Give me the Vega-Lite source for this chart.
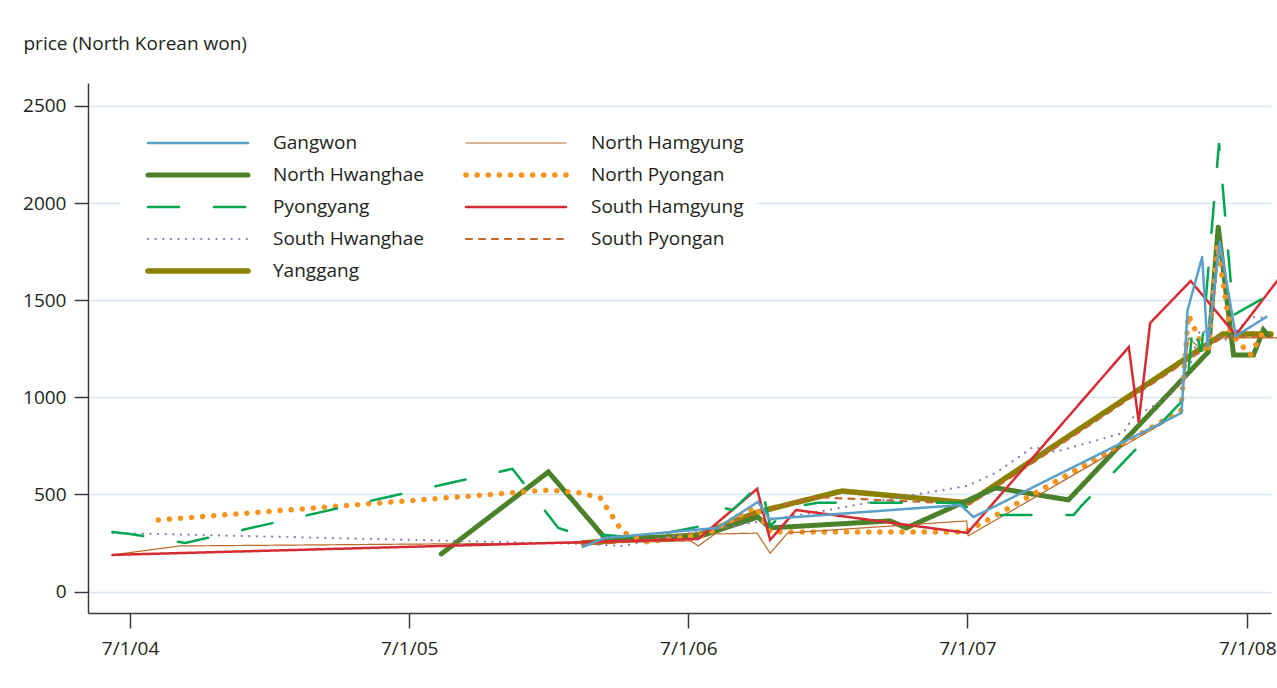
{
"$schema": "https://vega.github.io/schema/vega-lite/v6.json",
"width": 1183, "height": 530,
"autosize": "none",
"padding": {"left": 88, "top": 83, "right": 6, "bottom": 75},
"background": "white",
"config": {
  "view": {"stroke": null},
  "font": "Open Sans",
  "axis": {"labelFont": "Open Sans", "labelFontSize": 19, "labelColor": "#231f20", "domainColor": "#3a3a3a", "domainWidth": 1.5, "tickColor": "#3a3a3a", "tickWidth": 1.5, "gridColor": "#d6e5f1", "gridWidth": 1.5}
},
"data": {"values": [
{"region":"Yanggang","date":"2006-02-13","price":251},
{"region":"Yanggang","date":"2006-07-14","price":292},
{"region":"Yanggang","date":"2006-09-30","price":410},
{"region":"Yanggang","date":"2007-01-18","price":518},
{"region":"Yanggang","date":"2007-07-02","price":457},
{"region":"Yanggang","date":"2008-05-30","price":1326},
{"region":"Yanggang","date":"2008-08-01","price":1326},
{"region":"South Pyongan","date":"2006-02-13","price":240},
{"region":"South Pyongan","date":"2006-07-14","price":282},
{"region":"South Pyongan","date":"2006-09-30","price":410},
{"region":"South Pyongan","date":"2006-12-10","price":487},
{"region":"South Pyongan","date":"2007-07-05","price":451},
{"region":"South Pyongan","date":"2008-05-30","price":1311},
{"region":"South Pyongan","date":"2008-08-04","price":1311},
{"region":"North Hwanghae","date":"2005-08-12","price":194},
{"region":"North Hwanghae","date":"2005-12-30","price":616},
{"region":"North Hwanghae","date":"2006-03-14","price":276},
{"region":"North Hwanghae","date":"2006-07-14","price":282},
{"region":"North Hwanghae","date":"2006-09-30","price":384},
{"region":"North Hwanghae","date":"2006-10-16","price":328},
{"region":"North Hwanghae","date":"2007-03-22","price":364},
{"region":"North Hwanghae","date":"2007-04-12","price":328},
{"region":"North Hwanghae","date":"2007-08-07","price":534},
{"region":"North Hwanghae","date":"2007-11-10","price":472},
{"region":"North Hwanghae","date":"2008-05-11","price":1234},
{"region":"North Hwanghae","date":"2008-05-24","price":1877},
{"region":"North Hwanghae","date":"2008-06-13","price":1218},
{"region":"North Hwanghae","date":"2008-07-09","price":1218},
{"region":"North Hwanghae","date":"2008-07-22","price":1347},
{"region":"North Hwanghae","date":"2008-07-28","price":1321},
{"region":"North Pyongan","date":"2004-08-07","price":369},
{"region":"North Pyongan","date":"2005-12-30","price":523},
{"region":"North Pyongan","date":"2006-02-10","price":508},
{"region":"North Pyongan","date":"2006-03-08","price":482},
{"region":"North Pyongan","date":"2006-04-06","price":307},
{"region":"North Pyongan","date":"2006-05-06","price":256},
{"region":"North Pyongan","date":"2006-07-23","price":292},
{"region":"North Pyongan","date":"2006-09-27","price":436},
{"region":"North Pyongan","date":"2006-10-16","price":307},
{"region":"North Pyongan","date":"2007-06-28","price":307},
{"region":"North Pyongan","date":"2007-07-25","price":364},
{"region":"North Pyongan","date":"2008-04-05","price":930},
{"region":"North Pyongan","date":"2008-04-15","price":1424},
{"region":"North Pyongan","date":"2008-05-04","price":1259},
{"region":"North Pyongan","date":"2008-05-11","price":1229},
{"region":"North Pyongan","date":"2008-05-23","price":1784},
{"region":"North Pyongan","date":"2008-06-09","price":1332},
{"region":"North Pyongan","date":"2008-07-05","price":1218},
{"region":"North Pyongan","date":"2008-07-21","price":1332},
{"region":"North Pyongan","date":"2008-07-28","price":1321},
{"region":"South Hwanghae","date":"2004-06-08","price":302},
{"region":"South Hwanghae","date":"2006-02-10","price":246},
{"region":"South Hwanghae","date":"2006-04-06","price":235},
{"region":"South Hwanghae","date":"2006-06-04","price":282},
{"region":"South Hwanghae","date":"2006-09-29","price":359},
{"region":"South Hwanghae","date":"2006-12-17","price":410},
{"region":"South Hwanghae","date":"2007-03-13","price":472},
{"region":"South Hwanghae","date":"2007-07-01","price":544},
{"region":"South Hwanghae","date":"2007-08-09","price":616},
{"region":"South Hwanghae","date":"2007-09-25","price":745},
{"region":"South Hwanghae","date":"2007-10-24","price":719},
{"region":"South Hwanghae","date":"2008-01-21","price":817},
{"region":"South Hwanghae","date":"2008-02-03","price":899},
{"region":"South Hwanghae","date":"2008-03-19","price":997},
{"region":"South Hwanghae","date":"2008-04-14","price":1115},
{"region":"South Hwanghae","date":"2008-04-30","price":1347},
{"region":"South Hwanghae","date":"2008-06-05","price":1295},
{"region":"South Hwanghae","date":"2008-07-05","price":1414},
{"region":"South Hwanghae","date":"2008-07-27","price":1409},
{"region":"North Hamgyung","date":"2004-06-08","price":189},
{"region":"North Hamgyung","date":"2004-09-04","price":235},
{"region":"North Hamgyung","date":"2005-08-20","price":246},
{"region":"North Hamgyung","date":"2006-02-23","price":250},
{"region":"North Hamgyung","date":"2006-07-04","price":261},
{"region":"North Hamgyung","date":"2006-07-14","price":235},
{"region":"North Hamgyung","date":"2006-08-05","price":297},
{"region":"North Hamgyung","date":"2006-09-29","price":301},
{"region":"North Hamgyung","date":"2006-10-16","price":198},
{"region":"North Hamgyung","date":"2006-11-08","price":302},
{"region":"North Hamgyung","date":"2007-06-30","price":364},
{"region":"North Hamgyung","date":"2007-07-02","price":287},
{"region":"North Hamgyung","date":"2008-04-05","price":920},
{"region":"North Hamgyung","date":"2008-04-15","price":1306},
{"region":"North Hamgyung","date":"2008-04-30","price":1254},
{"region":"North Hamgyung","date":"2008-05-10","price":1270},
{"region":"North Hamgyung","date":"2008-05-30","price":1306},
{"region":"North Hamgyung","date":"2008-08-10","price":1306},
{"region":"South Hamgyung","date":"2004-06-08","price":189},
{"region":"South Hamgyung","date":"2006-07-14","price":271},
{"region":"South Hamgyung","date":"2006-09-29","price":529},
{"region":"South Hamgyung","date":"2006-10-16","price":266},
{"region":"South Hamgyung","date":"2006-11-19","price":420},
{"region":"South Hamgyung","date":"2007-07-01","price":302},
{"region":"South Hamgyung","date":"2008-01-28","price":1259},
{"region":"South Hamgyung","date":"2008-02-10","price":873},
{"region":"South Hamgyung","date":"2008-02-25","price":1383},
{"region":"South Hamgyung","date":"2008-04-18","price":1599},
{"region":"South Hamgyung","date":"2008-06-16","price":1321},
{"region":"South Hamgyung","date":"2008-08-10","price":1604},
{"region":"Pyongyang","date":"2004-06-08","price":307},
{"region":"Pyongyang","date":"2004-07-01","price":297},
{"region":"Pyongyang","date":"2004-09-11","price":251},
{"region":"Pyongyang","date":"2005-11-13","price":632},
{"region":"Pyongyang","date":"2006-01-12","price":328},
{"region":"Pyongyang","date":"2006-01-28","price":307},
{"region":"Pyongyang","date":"2006-04-29","price":276},
{"region":"Pyongyang","date":"2006-07-06","price":328},
{"region":"Pyongyang","date":"2006-07-19","price":338},
{"region":"Pyongyang","date":"2006-08-16","price":431},
{"region":"Pyongyang","date":"2006-08-28","price":420},
{"region":"Pyongyang","date":"2006-10-04","price":559},
{"region":"Pyongyang","date":"2006-10-16","price":338},
{"region":"Pyongyang","date":"2006-10-27","price":379},
{"region":"Pyongyang","date":"2006-11-15","price":436},
{"region":"Pyongyang","date":"2006-12-17","price":457},
{"region":"Pyongyang","date":"2007-06-18","price":457},
{"region":"Pyongyang","date":"2007-07-15","price":410},
{"region":"Pyongyang","date":"2007-07-31","price":395},
{"region":"Pyongyang","date":"2007-11-17","price":395},
{"region":"Pyongyang","date":"2007-11-27","price":441},
{"region":"Pyongyang","date":"2008-04-12","price":1002},
{"region":"Pyongyang","date":"2008-04-21","price":1388},
{"region":"Pyongyang","date":"2008-05-02","price":1234},
{"region":"Pyongyang","date":"2008-05-25","price":2309},
{"region":"Pyongyang","date":"2008-06-13","price":1424},
{"region":"Pyongyang","date":"2008-07-25","price":1517},
{"region":"Gangwon","date":"2006-02-13","price":230},
{"region":"Gangwon","date":"2006-03-13","price":276},
{"region":"Gangwon","date":"2006-08-08","price":328},
{"region":"Gangwon","date":"2006-09-30","price":462},
{"region":"Gangwon","date":"2006-10-15","price":374},
{"region":"Gangwon","date":"2007-06-22","price":446},
{"region":"Gangwon","date":"2007-07-09","price":384},
{"region":"Gangwon","date":"2008-04-06","price":920},
{"region":"Gangwon","date":"2008-04-14","price":1450},
{"region":"Gangwon","date":"2008-05-03","price":1723},
{"region":"Gangwon","date":"2008-05-10","price":1259},
{"region":"Gangwon","date":"2008-05-26","price":1800},
{"region":"Gangwon","date":"2008-06-16","price":1316},
{"region":"Gangwon","date":"2008-07-26","price":1414}
]},
"mark": {"type": "line", "strokeCap": "round", "clip": false},
"encoding": {
  "x": {"field": "date", "type": "temporal",
    "scale": {"type": "utc", "domain": [{"year": 2004, "month": 5, "date": 7, "utc": true}, {"year": 2008, "month": 8, "date": 1, "utc": true}]},
    "axis": {"title": null, "grid": false, "format": "%-m/%-d/%y", "tickSize": 15, "labelPadding": 11,
      "values": [{"year": 2004, "month": 7, "date": 1, "utc": true}, {"year": 2005, "month": 7, "date": 1, "utc": true}, {"year": 2006, "month": 7, "date": 1, "utc": true}, {"year": 2007, "month": 7, "date": 1, "utc": true}, {"year": 2008, "month": 7, "date": 1, "utc": true}]}},
  "y": {"field": "price", "type": "quantitative",
    "scale": {"domain": [-110, 2618], "nice": false, "zero": false},
    "axis": {"title": "price (North Korean won)", "values": [0, 500, 1000, 1500, 2000, 2500], "format": "d", "grid": true, "tickSize": 14, "labelPadding": 8,
      "titleAngle": 0, "titleAlign": "left", "titleBaseline": "alphabetic", "titleX": -65, "titleY": -34,
      "titleFont": "Open Sans", "titleFontSize": 19, "titleFontWeight": "normal", "titleColor": "#231f20"}},
  "color": {"field": "region", "type": "nominal",
    "scale": {"domain": ["Gangwon","North Hwanghae","Pyongyang","South Hwanghae","Yanggang","North Hamgyung","North Pyongan","South Hamgyung","South Pyongan"],
      "range": ["#5aa0c8","#4b8128","#00a651","#9473b6","#8c8100","#bd6a27","#f7941d","#d52b33","#c0692a"]},
    "legend": {"title": null, "orient": "none", "legendX": 32, "legendY": 32, "columns": 2, "padding": 12, "fillColor": "white",
      "symbolType": "stroke", "symbolSize": 10000, "clipHeight": 32, "rowPadding": 0, "columnPadding": 26, "labelOffset": 22, "symbolOffset": 13,
      "labelFont": "Open Sans", "labelFontSize": 19, "labelColor": "#231f20", "labelLimit": 300,
      "encode": {"symbols": {"update": {"strokeCap": {"value": "round"}}}}}},
  "strokeDash": {"field": "region", "type": "nominal",
    "scale": {"domain": ["Gangwon","North Hwanghae","Pyongyang","South Hwanghae","Yanggang","North Hamgyung","North Pyongan","South Hamgyung","South Pyongan"],
      "range": [[1,0],[1,0],[31,35],[0.1,7.5],[1,0],[1,0],[0.1,11],[1,0],[6,7]]}},
  "strokeWidth": {"field": "region", "type": "nominal",
    "scale": {"type": "ordinal", "domain": ["Gangwon","North Hwanghae","Pyongyang","South Hwanghae","Yanggang","North Hamgyung","North Pyongan","South Hamgyung","South Pyongan"],
      "range": [2.5,5,2.5,2.2,5.5,1.2,5.5,2.5,2.2]}}
}
}
